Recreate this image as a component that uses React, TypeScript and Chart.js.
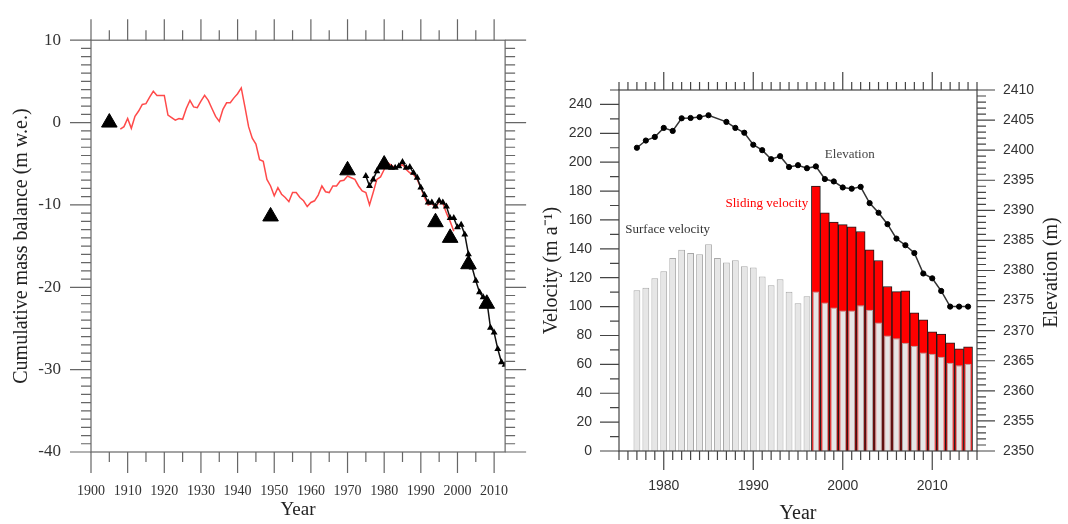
import React, { useEffect, useRef } from 'react';
import { Chart, registerables } from 'chart.js';

Chart.register(...registerables);

// ---------- Left chart: cumulative mass balance ----------
const massRedYears = [
  1908, 1909,
  1910, 1911, 1912, 1913, 1914, 1915, 1916, 1917, 1918, 1919,
  1920, 1921, 1922, 1923, 1924, 1925, 1926, 1927, 1928, 1929,
  1930, 1931, 1932, 1933, 1934, 1935, 1936, 1937, 1938, 1939,
  1940, 1941, 1942, 1943, 1944, 1945, 1946, 1947, 1948, 1949,
  1950, 1951, 1952, 1953, 1954, 1955, 1956, 1957, 1958, 1959,
  1960, 1961, 1962, 1963, 1964, 1965, 1966, 1967, 1968, 1969,
  1970, 1971, 1972, 1973, 1974, 1975, 1976, 1977, 1978, 1979,
  1980, 1981, 1982, 1983, 1984, 1985, 1986, 1987, 1988, 1989,
  1990, 1991, 1992, 1993, 1994, 1995, 1996, 1997, 1998, 1999,
];
const massRedValues = [
  -0.8, -0.5,
  0.5, -0.7, 0.75, 1.4, 2.2, 2.3, 3.1, 3.8, 3.3, 3.3,
  3.3, 0.9, 0.6, 0.3, 0.5, 0.4, 1.7, 2.7, 1.9, 1.8,
  2.6, 3.3, 2.7, 1.7, 0.75, 0.15, 1.6, 2.4, 2.4, 3.0,
  3.5, 4.2, 1.9, -0.5, -1.9, -2.6, -4.5, -4.7, -6.9, -7.7,
  -8.9, -7.9, -8.7, -9.1, -9.6, -8.5, -8.5, -9.1, -9.5, -10.2,
  -9.7, -9.5, -8.8, -7.7, -8.4, -8.5, -7.7, -7.7, -7.1, -7.0,
  -6.5, -6.7, -6.9, -7.7, -8.3, -8.5, -10.0, -8.5, -6.9, -6.6,
  -5.7, -4.9, -5.2, -5.5, -5.3, -5.1, -5.7, -6.1, -6.3, -6.9,
  -7.9, -9.1, -10.0, -9.8, -10.4, -9.6, -9.8, -11.0, -12.0, -13.2,
];
const massBlackYears = [
  1975, 1976, 1977, 1978, 1979,
  1980, 1981, 1982, 1983, 1984, 1985, 1986, 1987, 1988, 1989,
  1990, 1991, 1992, 1993, 1994, 1995, 1996, 1997, 1998, 1999,
  2000, 2001, 2002, 2003, 2004, 2005, 2006, 2007, 2008, 2009,
  2010, 2011, 2012, 2013,
];
const massBlackValues = [
  -6.5, -7.7, -6.9, -5.9, -5.3,
  -4.9, -5.4, -5.5, -5.5, -5.3, -4.8, -5.5, -5.4, -6.1, -6.7,
  -7.9, -8.8, -9.7, -9.7, -10.2, -9.5, -9.7, -10.2, -11.6, -11.6,
  -12.7, -12.4, -13.6, -16.0, -17.6, -19.2, -20.6, -21.2, -21.6, -24.9,
  -25.5, -27.5, -29.1, -29.4,
];
const markerYears = [1905, 1949, 1970, 1980, 1994, 1998, 2003, 2008];
const markerValues = [0, -11.4, -5.8, -5.1, -12.1, -14.0, -17.2, -22.0];
const massYearTicks = [1900, 1910, 1920, 1930, 1940, 1950, 1960, 1970, 1980, 1990, 2000, 2010];
const massValueTicks = [-40, -30, -20, -10, 0, 10];

// ---------- Right chart: velocity & elevation ----------
const velocityYears = [
  1977, 1978, 1979, 1980, 1981, 1982, 1983, 1984, 1985, 1986,
  1987, 1988, 1989, 1990, 1991, 1992, 1993, 1994, 1995, 1996,
  1997, 1998, 1999, 2000, 2001, 2002, 2003, 2004, 2005, 2006,
  2007, 2008, 2009, 2010, 2011, 2012, 2013, 2014,
];
const surfaceVelocity = [
  111.4, 113, 119.7, 124.5, 133.7, 139.3, 137.2, 136.3, 143.2, 133.7,
  130.5, 132.1, 128, 127, 120.8, 114.8, 119, 110.2, 102.4, 107.2,
  110.4, 102.8, 99.4, 97.3, 97.3, 101, 97.8, 89, 80, 78,
  75, 72.9, 68.2, 67.3, 65.2, 61.1, 59.3, 60.4,
];
const slidingYears = [
  1997, 1998, 1999, 2000, 2001, 2002, 2003, 2004, 2005, 2006,
  2007, 2008, 2009, 2010, 2011, 2012, 2013, 2014,
];
const slidingTop = [
  183.5, 165, 158.6, 156.8, 155.2, 152, 139.3, 131.9, 113.9, 110.4,
  110.9, 95.7, 90.8, 82.5, 80.9, 74.9, 70.8, 72.2,
];
const elevationYears = [
  1977, 1978, 1979, 1980, 1981, 1982, 1983, 1984, 1985,
  1987, 1988, 1989, 1990, 1991, 1992, 1993, 1994, 1995, 1996,
  1997, 1998, 1999, 2000, 2001, 2002, 2003, 2004, 2005, 2006,
  2007, 2008, 2009, 2010, 2011, 2012, 2013, 2014,
];
const elevationValues = [
  2400.4, 2401.6, 2402.2, 2403.7, 2403.2, 2405.3, 2405.35, 2405.5, 2405.8,
  2404.7, 2403.7, 2402.9, 2400.9, 2400.0, 2398.5, 2399.0, 2397.2, 2397.5, 2397.0,
  2397.3, 2395.2, 2394.8, 2393.8, 2393.6, 2393.9, 2391.2, 2389.6, 2387.7, 2385.3,
  2384.2, 2382.9, 2379.5, 2378.7, 2376.6, 2374.0, 2374.0, 2374.0,
];
const velYearTicks = [1980, 1990, 2000, 2010];
const velocityTicks = [0, 20, 40, 60, 80, 100, 120, 140, 160, 180, 200, 220, 240];
const elevationTicks = [2350, 2355, 2360, 2365, 2370, 2375, 2380, 2385, 2390, 2395, 2400, 2405, 2410];

const SERIF = "'Liberation Serif', 'Times New Roman', serif";
const SANS = "'Liberation Sans', Arial, sans-serif";

type TickSpec = {
  scaleId: string;
  side: 'left' | 'right' | 'top' | 'bottom';
  minor: number;
  major: number;
  majorLen: number;
  minorLen: number;
};

function fixedTicks(values: number[]) {
  return (scale: any) => {
    scale.ticks = values.map((value) => ({ value }));
  };
}

function makeFramePlugin(id: string, specs: TickSpec[], color: string, extra?: (chart: any) => void) {
  return {
    id,
    afterDraw(chart: any) {
      const { ctx, chartArea } = chart;
      const { left, right, top, bottom } = chartArea;
      ctx.save();
      ctx.strokeStyle = color;
      ctx.lineWidth = 1.2;
      ctx.strokeRect(left, top, right - left, bottom - top);
      for (const s of specs) {
        const sc = chart.scales[s.scaleId];
        const start = Math.ceil(sc.min / s.minor - 1e-9);
        const end = Math.floor(sc.max / s.minor + 1e-9);
        ctx.beginPath();
        for (let k = start; k <= end; k++) {
          const v = k * s.minor;
          const r = v / s.major;
          const isMajor = Math.abs(r - Math.round(r)) < 1e-6;
          const len = isMajor ? s.majorLen : s.minorLen;
          const p = sc.getPixelForValue(v);
          if (s.side === 'left') { ctx.moveTo(left, p); ctx.lineTo(left - len, p); }
          else if (s.side === 'right') { ctx.moveTo(right, p); ctx.lineTo(right + len, p); }
          else if (s.side === 'top') { ctx.moveTo(p, top); ctx.lineTo(p, top - len); }
          else { ctx.moveTo(p, bottom); ctx.lineTo(p, bottom + len); }
        }
        ctx.stroke();
      }
      if (extra) extra(chart);
      ctx.restore();
    },
  };
}

function LeftChart() {
  const ref = useRef<HTMLCanvasElement>(null);
  useEffect(() => {
    const framePlugin = makeFramePlugin('leftFrame', [
      { scaleId: 'x', side: 'bottom', minor: 5, major: 10, majorLen: 21, minorLen: 10 },
      { scaleId: 'x', side: 'top', minor: 5, major: 10, majorLen: 21, minorLen: 10 },
      { scaleId: 'y', side: 'left', minor: 1, major: 10, majorLen: 21, minorLen: 10 },
      { scaleId: 'y', side: 'right', minor: 1, major: 10, majorLen: 21, minorLen: 10 },
    ], '#666');
    const chart = new Chart(ref.current as HTMLCanvasElement, {
      type: 'line',
      data: {
        datasets: [
          {
            label: 'Geodetic',
            data: markerYears.map((x, i) => ({ x, y: markerValues[i] })),
            showLine: false,
            pointStyle: 'triangle',
            pointRadius: 9,
            pointBackgroundColor: '#000',
            pointBorderColor: '#000',
            borderColor: '#000',
          },
          {
            label: 'Measured',
            data: massBlackYears.map((x, i) => ({ x, y: massBlackValues[i] })),
            borderColor: '#111',
            borderWidth: 1.5,
            pointStyle: 'triangle',
            pointRadius: 2.5,
            pointBackgroundColor: '#000',
            pointBorderColor: '#000',
            tension: 0,
          },
          {
            label: 'Reconstructed',
            data: massRedYears.map((x, i) => ({ x, y: massRedValues[i] })),
            borderColor: '#ff4a4a',
            borderWidth: 1.5,
            pointRadius: 0,
            tension: 0,
          },
        ],
      },
      options: {
        animation: false,
        responsive: false,
        layout: { padding: { top: 32, right: 33, left: 0, bottom: 0 } },
        plugins: { legend: { display: false }, tooltip: { enabled: false } },
        scales: {
          x: {
            type: 'linear',
            position: 'bottom',
            min: 1900,
            max: 2013,
            offset: false,
            grid: { display: false, drawTicks: false },
            border: { display: false },
            afterBuildTicks: fixedTicks(massYearTicks),
            ticks: {
              autoSkip: false,
              maxRotation: 0,
              padding: 31,
              color: '#333',
              font: { family: SERIF, size: 14 },
              callback: (v: any) => String(v),
            },
            title: {
              display: true,
              text: 'Year',
              color: '#222',
              font: { family: SERIF, size: 19, lineHeight: 1 },
              padding: { top: 0, bottom: 4 },
            },
            afterFit: (s: any) => { s.height = 72; },
          },
          y: {
            type: 'linear',
            min: -40,
            max: 10,
            grid: { display: false, drawTicks: false },
            border: { display: false },
            afterBuildTicks: fixedTicks(massValueTicks),
            ticks: {
              padding: 30,
              color: '#333',
              font: { family: SERIF, size: 17 },
              callback: (v: any) => String(v),
            },
            title: {
              display: true,
              text: 'Cumulative mass balance (m w.e.)',
              color: '#222',
              font: { family: SERIF, size: 20, lineHeight: 1 },
              padding: { top: 12, bottom: 0 },
            },
            afterFit: (s: any) => { s.width = 91; },
          },
        },
      } as any,
      plugins: [framePlugin],
    } as any);
    return () => chart.destroy();
  }, []);
  return (
    <canvas
      ref={ref}
      width={540}
      height={524}
      style={{ position: 'absolute', left: 0, top: 0, width: 540, height: 524 }}
    />
  );
}

function RightChart() {
  const ref = useRef<HTMLCanvasElement>(null);
  useEffect(() => {
    const framePlugin = makeFramePlugin('rightFrame', [
      { scaleId: 'x', side: 'bottom', minor: 1, major: 10, majorLen: 19, minorLen: 9 },
      { scaleId: 'x', side: 'top', minor: 1, major: 10, majorLen: 18, minorLen: 8 },
      { scaleId: 'y', side: 'left', minor: 10, major: 20, majorLen: 19, minorLen: 9 },
      { scaleId: 'y2', side: 'right', minor: 1, major: 5, majorLen: 18, minorLen: 9 },
    ], '#444', (chart: any) => {
      const { ctx } = chart;
      const xs = chart.scales.x;
      const ys = chart.scales.y;
      ctx.textBaseline = 'middle';
      ctx.textAlign = 'left';
      ctx.font = `13px ${SERIF}`;
      ctx.fillStyle = '#333';
      ctx.fillText('Surface velocity', xs.getPixelForValue(1975.7), ys.getPixelForValue(153));
      ctx.fillStyle = '#ff0000';
      ctx.fillText('Sliding velocity', xs.getPixelForValue(1986.9), ys.getPixelForValue(171));
      ctx.fillStyle = '#444';
      ctx.fillText('Elevation', xs.getPixelForValue(1998.0), ys.getPixelForValue(205.6));
      // right axis title (reads bottom-to-top)
      const ca = chart.chartArea;
      ctx.save();
      ctx.translate(511.5, (ca.top + ca.bottom) / 2 + 2);
      ctx.rotate(-Math.PI / 2);
      ctx.textAlign = 'center';
      ctx.fillStyle = '#222';
      ctx.font = `20px ${SERIF}`;
      ctx.fillText('Elevation (m)', 0, 0);
      ctx.restore();
    });
    const chart = new Chart(ref.current as HTMLCanvasElement, {
      type: 'bar',
      data: {
        datasets: [
          {
            type: 'line',
            label: 'Elevation',
            data: elevationYears.map((x, i) => ({ x, y: elevationValues[i] })),
            yAxisID: 'y2',
            borderColor: '#333',
            borderWidth: 1.5,
            pointRadius: 2.6,
            pointBorderWidth: 1,
            pointBackgroundColor: '#000',
            pointBorderColor: '#000',
            tension: 0,
            order: 0,
          },
          {
            type: 'bar',
            label: 'Surface velocity',
            data: velocityYears.map((x, i) => ({ x, y: surfaceVelocity[i] })),
            yAxisID: 'y',
            backgroundColor: '#e6e6e6',
            borderColor: '#a8a8a8',
            borderWidth: 1,
            barPercentage: 0.76,
            categoryPercentage: 1,
            grouped: false,
            order: 1,
          },
          {
            type: 'bar',
            label: 'Sliding velocity',
            data: slidingYears.map((x, i) => ({ x, y: slidingTop[i] })),
            yAxisID: 'y',
            backgroundColor: '#ff0000',
            borderColor: '#1a1a1a',
            borderWidth: 1,
            barPercentage: 1,
            categoryPercentage: 1,
            grouped: false,
            order: 2,
          },
        ],
      },
      options: {
        animation: false,
        responsive: false,
        layout: { padding: { top: 90, right: 0, left: 0, bottom: 0 } },
        plugins: { legend: { display: false }, tooltip: { enabled: false } },
        scales: {
          x: {
            type: 'linear',
            position: 'bottom',
            min: 1975,
            max: 2015,
            offset: false,
            grid: { display: false, drawTicks: false },
            border: { display: false },
            afterBuildTicks: fixedTicks(velYearTicks),
            ticks: {
              autoSkip: false,
              maxRotation: 0,
              padding: 27,
              color: '#333',
              font: { family: SANS, size: 14 },
              callback: (v: any) => String(v),
            },
            title: {
              display: true,
              text: 'Year',
              color: '#222',
              font: { family: SERIF, size: 20, lineHeight: 1 },
              padding: { top: 0, bottom: 0 },
            },
            afterFit: (s: any) => { s.height = 73; },
          },
          y: {
            type: 'linear',
            position: 'left',
            min: 0,
            max: 250,
            grid: { display: false, drawTicks: false },
            border: { display: false },
            afterBuildTicks: fixedTicks(velocityTicks),
            ticks: {
              padding: 27,
              color: '#333',
              font: { family: SANS, size: 14 },
              callback: (v: any) => String(v),
            },
            title: {
              display: true,
              text: 'Velocity (m a\u207B\u00B9)',
              color: '#222',
              font: { family: SERIF, size: 20, lineHeight: 1 },
              padding: { top: 2, bottom: 0 },
            },
            afterFit: (s: any) => { s.width = 79; },
          },
          y2: {
            type: 'linear',
            position: 'right',
            min: 2350,
            max: 2410,
            grid: { display: false, drawTicks: false },
            border: { display: false },
            afterBuildTicks: fixedTicks(elevationTicks),
            ticks: {
              padding: 26,
              color: '#333',
              font: { family: SANS, size: 14 },
              callback: (v: any) => String(v),
            },
            afterFit: (s: any) => { s.width = 91; },
          },
        },
      } as any,
      plugins: [framePlugin],
    } as any);
    return () => chart.destroy();
  }, []);
  return (
    <canvas
      ref={ref}
      width={528}
      height={524}
      style={{ position: 'absolute', left: 540, top: 0, width: 528, height: 524 }}
    />
  );
}

export default function App() {
  return (
    <div
      style={{
        position: 'absolute',
        left: 0,
        top: 0,
        width: 1068,
        height: 524,
        background: '#fff',
        overflow: 'hidden',
      }}
    >
      <LeftChart />
      <RightChart />
    </div>
  );
}
